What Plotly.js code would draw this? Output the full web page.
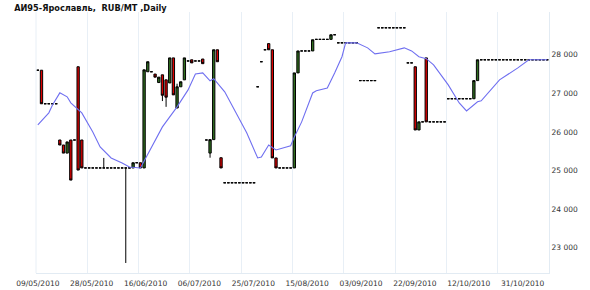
<!DOCTYPE html>
<html>
<head>
<meta charset="utf-8">
<script src="https://cdn.plot.ly/plotly-3.0.1.min.js"></script>
<style>html,body{margin:0;padding:0;background:#fff;}#chart{width:590px;height:290px;}</style>
</head>
<body>
<div id="chart"></div>
<script>
const chartTitle = "АИ95-Ярославль,  RUB/MT ,Daily";
const tickLabels = ["09/05/2010","28/05/2010","16/06/2010","06/07/2010","25/07/2010","15/08/2010","03/09/2010","22/09/2010","12/10/2010","31/10/2010"];
const tickIdx = [0, 14.7, 29.4, 44.1, 58.8, 73.5, 88.2, 102.9, 117.6, 132.3];
const gridIdx = [13.5, 27.5, 41.5, 55.5, 69.5, 83.5, 97.5, 111.5, 125.5];

const openV = [
27600,27600,26730,26730,26730,26730,25790,25660,25450,25790,
25790,27690,25790,25065,25065,25065,25065,25065,25065,25065,
25065,25065,25065,25065,25065,25065,25065,25200,25200,25065,
27560,27560,27500,27280,27480,27350,27270,27920,26620,27170,
27350,27840,27870,27840,27840,27890,25790,25450,25800,28130,
25330,24680,24680,24680,24680,24680,24680,24680,24680,24680,
27170,27820,28130,28290,28130,25325,25065,25065,25065,25065,
25065,27530,28100,28100,28100,28100,28400,28400,28400,28400,
28400,28520,28310,28310,28310,28310,28310,28310,27330,27330,
27330,27330,27330,28700,28700,28700,28700,28700,28700,28700,
28700,27790,27790,27690,26050,26260,27920,26260,26260,26260,
26260,26260,26860,26860,26860,26860,26860,26860,26860,26860,
27330,27870,27870,27870,27870,27870,27870,27870,27870,27870,
27870,27870,27870,27870,27870,27870,27870,27870,27870,27870];
const highV = [
27600,27600,26730,26730,26730,26730,25790,25660,25740,25790,
25790,27690,25790,25065,25065,25065,25065,25065,25325,25065,
25065,25065,25065,25065,25065,25065,25200,25200,25200,27610,
27820,27560,27500,27420,27480,27350,27920,27920,27250,27300,
27920,27840,27870,27840,27840,27890,25790,25800,28130,28130,
25330,24680,24680,24680,24680,24680,24680,24680,24680,24680,
27170,27820,28130,28290,28130,25325,25065,25065,25065,25065,
27530,28100,28100,28100,28100,28390,28400,28400,28400,28400,
28520,28520,28310,28310,28310,28310,28310,28310,27330,27330,
27330,27330,27330,28700,28700,28700,28700,28700,28700,28700,
28700,27790,27790,27690,26260,26260,27920,26260,26260,26260,
26260,26260,26860,26860,26860,26860,26860,26860,26860,27330,
27870,27870,27870,27870,27870,27870,27870,27870,27870,27870,
27870,27870,27870,27870,27870,27870,27870,27870,27870,27870];
const lowV = [
27600,26730,26730,26730,26730,26730,25660,25450,25450,24750,
25790,25010,25065,25065,25065,25065,25065,25065,25065,25065,
25065,25065,25065,25065,22600,25065,25065,25200,25065,25065,
27560,27560,27420,27280,26800,26650,27270,26960,26620,27170,
27350,27840,27790,27840,27840,27770,25790,25330,25800,27820,
25065,24680,24680,24680,24680,24680,24680,24680,24680,24680,
27170,27820,28130,28130,25325,25065,25065,25065,25065,25065,
25065,27530,28100,28100,28100,28100,28400,28400,28400,28400,
28400,28520,28310,28310,28310,28310,28310,28310,27330,27330,
27330,27330,27330,28700,28700,28700,28700,28700,28700,28700,
28700,27790,27790,26050,26050,26260,26260,26260,26260,26260,
26260,26260,26860,26860,26860,26860,26860,26860,26860,26860,
27330,27870,27870,27870,27870,27870,27870,27870,27870,27870,
27870,27870,27870,27870,27870,27870,27870,27870,27870,27870];
const closeV = [
27600,26730,26730,26730,26730,26730,25660,25450,25740,24750,
25790,25010,25065,25065,25065,25065,25065,25065,25065,25065,
25065,25065,25065,25065,25065,25065,25200,25200,25065,27610,
27820,27560,27420,27420,26950,26900,27920,26960,27170,27300,
27920,27840,27790,27840,27840,27770,25790,25800,28130,27820,
25065,24680,24680,24680,24680,24680,24680,24680,24680,24680,
27170,27820,28130,28130,25325,25065,25065,25065,25065,25065,
27530,28100,28100,28100,28100,28390,28400,28400,28400,28400,
28520,28520,28310,28310,28310,28310,28310,28310,27330,27330,
27330,27330,27330,28700,28700,28700,28700,28700,28700,28700,
28700,27790,27790,26050,26260,26260,26260,26260,26260,26260,
26260,26260,26860,26860,26860,26860,26860,26860,26860,27330,
27870,27870,27870,27870,27870,27870,27870,27870,27870,27870,
27870,27870,27870,27870,27870,27870,27870,27870,27870,27870];

const maIdx = [0,3,4,6,8,9,12,15,17,20,23,25,28,31,34,38,41,43,45,47,48,51,54,57,60,61,63,64,65,69,70,72,75,76,79,81,83,84,87,90,92,96,100,102,104,106,108,112,115,117,120,121,126,131,134,139];
const maVal = [26180,26494,26700,27013,26910,26753,26494,26000,25610,25325,25195,25090,25065,25610,26130,26650,27090,27500,27530,27325,27380,27040,26500,25975,25325,25350,25660,25585,25530,25640,25870,26260,27010,27065,27140,27530,27950,28310,28310,28180,28025,28080,28180,28100,27950,27900,27740,27220,26750,26545,26780,26805,27350,27660,27870,27870];

const idx = openV.map((_, i) => i);

const traces = [
  {
    type: 'candlestick',
    x: idx, open: openV, high: highV, low: lowV, close: closeV,
    increasing: {fillcolor: '#2f6e1f', line: {color: '#000000', width: 1}},
    decreasing: {fillcolor: '#dc0000', line: {color: '#000000', width: 1}},
    whiskerwidth: 0,
    showlegend: false,
    hoverinfo: 'skip'
  },
  {
    type: 'scatter', mode: 'lines',
    x: maIdx, y: maVal,
    line: {color: '#6f6ff0', width: 1.1},
    showlegend: false, hoverinfo: 'skip'
  }
];

const layout = {
  width: 590, height: 290,
  margin: {l: 36, r: 41, t: 12, b: 17},
  paper_bgcolor: '#ffffff', plot_bgcolor: '#ffffff',
  showlegend: false,
  boxgap: 0.1,
  separators: '. ',
  title: {text: chartTitle, x: 0.024, xanchor: 'left', y: 0.972, yanchor: 'middle',
          font: {family: 'DejaVu Sans', size: 8.2, color: '#111111', weight: 'bold'}},
  xaxis: {
    range: [-0.5, idx.length - 0.5],
    rangeslider: {visible: false},
    tickmode: 'array', tickvals: tickIdx, ticktext: tickLabels,
    showgrid: false, zeroline: false,
    ticks: '', ticklabelstandoff: 3,
    showline: true, linecolor: '#e2ebf3', linewidth: 1,
    tickfont: {family: 'DejaVu Sans', size: 7.5, color: '#333333'},
    minor: {tickmode: 'array', tickvals: gridIdx, showgrid: true, gridcolor: '#e8eff6', gridwidth: 1, ticks: ''},
    fixedrange: true
  },
  yaxis: {
    side: 'right',
    range: [22340, 29110],
    tickmode: 'array', tickvals: [23000, 24000, 25000, 26000, 27000, 28000],
    tickformat: ',d',
    showgrid: false, zeroline: false,
    ticks: '',
    showline: true, linecolor: '#e2ebf3', linewidth: 1,
    tickfont: {family: 'DejaVu Sans', size: 7.5, color: '#333333'},
    fixedrange: true
  },
  shapes: [
    {type: 'line', xref: 'paper', yref: 'paper', x0: 0, x1: 0, y0: 0, y1: 1, line: {color: '#e8eff6', width: 1}}
  ]
};

Plotly.newPlot('chart', traces, layout, {displayModeBar: false, staticPlot: true});
</script>
</body>
</html>
